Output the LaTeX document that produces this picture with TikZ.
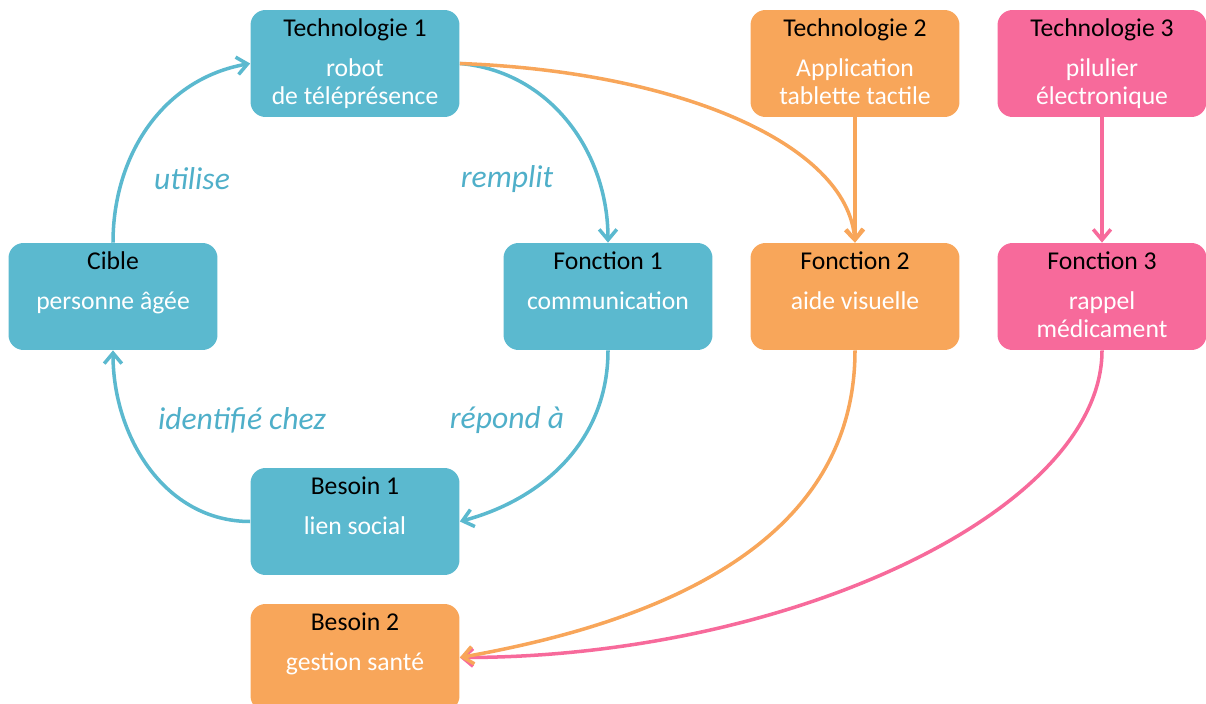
\documentclass[tikz,border=0pt]{standalone}
\usepackage{fontspec}
\setmainfont{Carlito}
\usetikzlibrary{arrows.meta}
\definecolor{bleu}{HTML}{5BB9CF}
\definecolor{bleutexte}{HTML}{4FAFC9}
\definecolor{orangeb}{HTML}{F8A65A}
\definecolor{rose}{HTML}{F76A9B}

\begin{document}
\begin{tikzpicture}[x=0.02cm, y=0.02cm,
        boite/.style = {rounded corners=0.3cm, minimum width=4.18cm, minimum height=2.14cm, inner sep=0pt},
        titre/.style = {font=\fontsize{14.6}{16}\selectfont, black, anchor=base, inner sep=0pt},
        texte/.style = {font=\fontsize{14.6}{15.9}\selectfont, white, anchor=base, align=center, inner sep=0pt},
        lien/.style = {font=\fontsize{18}{20}\selectfont\itshape, bleutexte},
        fleche/.style = {line width=2pt, -{Straight Barb[length=6pt,width=10pt]}}
    ]
        \useasboundingbox (0, 0) rectangle (1206, 703);

        % boites
        \node[boite, fill=bleu] (tech1) at (355, 639.5) {};
        \node[boite, fill=orangeb] (tech2) at (855, 639.5) {};
        \node[boite, fill=rose] (tech3) at (1102, 639.5) {};
        \node[boite, fill=bleu] (cible) at (113, 406.5) {};
        \node[boite, fill=bleu] (fonc1) at (608, 406.5) {};
        \node[boite, fill=orangeb] (fonc2) at (855, 406.5) {};
        \node[boite, fill=rose] (fonc3) at (1102, 406.5) {};
        \node[boite, fill=bleu] (besoin1) at (355, 181.5) {};
        \node[boite, fill=orangeb] (besoin2) at (355, 45.5) {};

        % textes (base = derniere ligne)
        \node[titre] (tech1t) at ([yshift=-0.54cm]tech1.north) {Technologie 1};
        \node[texte] (tech1c) at ([yshift=-1.90cm]tech1.north) {robot\\de téléprésence};
        \node[titre] (tech2t) at ([yshift=-0.54cm]tech2.north) {Technologie 2};
        \node[texte] (tech2c) at ([yshift=-1.90cm]tech2.north) {Application\\tablette tactile};
        \node[titre] (tech3t) at ([yshift=-0.54cm]tech3.north) {Technologie 3};
        \node[texte] (tech3c) at ([yshift=-1.90cm]tech3.north) {pilulier\\électronique};
        \node[titre] (ciblet) at ([yshift=-0.54cm]cible.north) {Cible};
        \node[texte] (ciblec) at ([yshift=-1.34cm]cible.north) {personne âgée};
        \node[titre] (fonc1t) at ([yshift=-0.54cm]fonc1.north) {Fonction 1};
        \node[texte] (fonc1c) at ([yshift=-1.34cm]fonc1.north) {communication};
        \node[titre] (fonc2t) at ([yshift=-0.54cm]fonc2.north) {Fonction 2};
        \node[texte] (fonc2c) at ([yshift=-1.34cm]fonc2.north) {aide visuelle};
        \node[titre] (fonc3t) at ([yshift=-0.54cm]fonc3.north) {Fonction 3};
        \node[texte] (fonc3c) at ([yshift=-1.90cm]fonc3.north) {rappel\\médicament};
        \node[titre] (besoin1t) at ([yshift=-0.54cm]besoin1.north) {Besoin 1};
        \node[texte] (besoin1c) at ([yshift=-1.34cm]besoin1.north) {lien social};
        \node[titre] (besoin2t) at ([yshift=-0.54cm]besoin2.north) {Besoin 2};
        \node[texte] (besoin2c) at ([yshift=-1.34cm]besoin2.north) {gestion santé};

        % liens
        \node[lien] (utilise) at (192, 524) {utilise};
        \node[lien] (remplit) at (507, 524) {remplit};
        \node[lien] (identifie) at (242, 283) {identifié chez};
        \node[lien] (repond) at (507, 283) {répond à};

        % fleches
        \draw[fleche, bleu] (cible.north) to[out=90, in=190] (tech1.west);
        \draw[fleche, bleu] (tech1.east) to[out=-5, in=90] (fonc1.north);
        \draw[fleche, bleu] (fonc1.south) to[out=-90, in=15] (besoin1.east);
        \draw[fleche, bleu] (besoin1.west) to[out=180, in=-90] (cible.south);
        \draw[fleche, orangeb] (tech1.east) .. controls +(218,-8) and +(-8,99) .. (fonc2.north);
        \draw[fleche, orangeb] (tech2.south) -- (fonc2.north);
        \draw[fleche, rose] (tech3.south) -- (fonc3.north);
        \draw[fleche, rose] (fonc3.south) .. controls +(0,-160) and +(330,0) .. (besoin2.east);
        \draw[fleche, orangeb] (fonc2.south) to[out=-90, in=10] (besoin2.east);
    \end{tikzpicture}
\end{document}
